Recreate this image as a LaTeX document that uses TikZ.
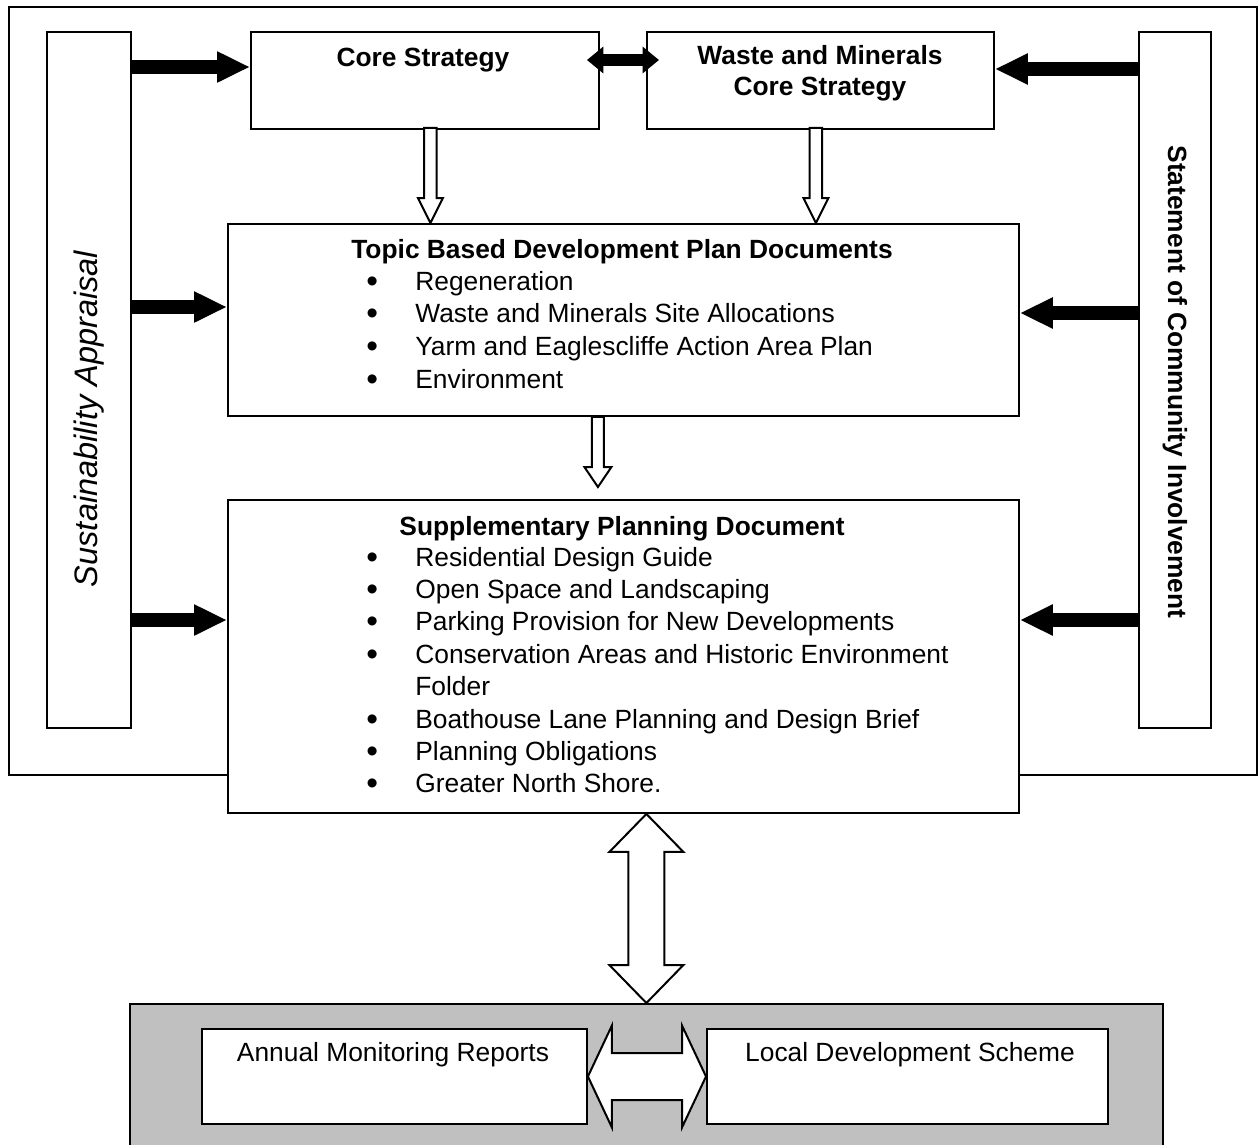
\documentclass[tikz,border=0pt]{standalone}
\usepackage{fontspec}
\setmainfont{Liberation Sans}
\usepackage{tikz}
\usetikzlibrary{arrows.meta,calc}
\definecolor{panel}{HTML}{C0C0C0}
\tikzset{
  box/.style={draw, line width=0.04cm, fill=white, inner sep=0pt},
  frame/.style={draw, line width=0.04cm},
  blk/.style={line width=0.28cm, -{Triangle[length=0.66cm,width=0.58cm]}},
  blkdbl/.style={line width=0.24cm, {Triangle[length=0.33cm,width=0.52cm]}-{Triangle[length=0.33cm,width=0.52cm]},
    shorten <=-0.26cm, shorten >=-0.26cm},
  hollow/.style={draw, line width=0.04cm, fill=white, line join=miter},
  head/.style={font=\bfseries\fontsize{15}{17.6}\selectfont, align=center, inner sep=0pt},
  txt/.style={font=\fontsize{15}{18}\selectfont, inner sep=0pt},
  item/.style={txt, anchor=base west},
  bullet/.style={font=\fontsize{19}{20}\selectfont, inner sep=0pt, anchor=base west}
}

\begin{document}
\begin{tikzpicture}[x=0.02cm,y=-0.02cm]
  \useasboundingbox (0,0) rectangle (1258,1144);
  \clip (0,0) rectangle (1258,1144);
  \draw[frame] (9,7) rectangle (1257,775);

  % side panels
  \node[box, anchor=north west, minimum width=1.68cm, minimum height=13.92cm] (sa) at (46,31) {};
  \node[box, anchor=north west, minimum width=1.44cm, minimum height=13.92cm] (sci) at (1138,31) {};
  \node[font=\itshape\fontsize{18.5}{22}\selectfont, inner sep=0pt, rotate=90] (satxt) at (89,419) {Sustainability Appraisal};
  \node[head, rotate=-90] (scitxt) at (1175,382) {Statement of Community Involvement};

  % strategies
  \node[box, anchor=north west, minimum width=6.96cm, minimum height=1.94cm] (cs) at (250,31) {};
  \node[box, anchor=north west, minimum width=6.94cm, minimum height=1.94cm] (wm) at (646,31) {};
  \node[head, anchor=base] (cstxt) at (423,66) {Core Strategy};
  \node[head] (wmtxt) at (820,73) {Waste and Minerals\\Core Strategy};

  % topic based DPDs
  \node[box, anchor=north west, minimum width=15.82cm, minimum height=3.84cm] (tp) at (227,223) {};
  \node[head, anchor=base] (tptxt) at (622,258) {Topic Based Development Plan Documents};
  \foreach \txt [count=\i] in {Regeneration, Waste and Minerals Site Allocations,
      Yarm and Eaglescliffe Action Area Plan, Environment}{
    \node[bullet] (tpb\i) at (366,{292+32.7*(\i-1)}) {\textbullet};
    \node[item] (tpi\i) at (415,{290+32.7*(\i-1)}) {\txt};
  }

  % SPDs
  \node[box, anchor=north west, minimum width=15.82cm, minimum height=6.26cm] (spd) at (227,499) {};
  \node[head, anchor=base] (spdtxt) at (622,535) {Supplementary Planning Document};
  \foreach \txt/\bul [count=\i] in {Residential Design Guide/1, Open Space and Landscaping/1,
      Parking Provision for New Developments/1, Conservation Areas and Historic Environment/1,
      Folder/0, Boathouse Lane Planning and Design Brief/1, Planning Obligations/1,
      Greater North Shore./1}{
    \ifnum\bul=1 \node[bullet] (spdb\i) at (366,{568+32.4*(\i-1)}) {\textbullet}; \fi
    \node[item] (spdi\i) at (415,{566+32.4*(\i-1)}) {\txt};
  }

  % monitoring
  \node[box, fill=panel, anchor=north west, minimum width=20.66cm, minimum height=3.2cm] (mon) at (129,1003) {};
  \node[box, anchor=north west, minimum width=7.7cm, minimum height=1.9cm] (amr) at (201,1028) {};
  \node[box, anchor=north west, minimum width=8.02cm, minimum height=1.9cm] (lds) at (706,1028) {};
  \node[txt, anchor=base] (amrtxt) at (393,1061) {Annual Monitoring Reports};
  \node[txt, anchor=base] (ldstxt) at (910,1061) {Local Development Scheme};

  % solid arrows
  \draw[blk] (sa.east |- 0,67) -- (cs.west |- 0,67);
  \draw[blk] (sa.east |- 0,307) -- (tp.west |- 0,307);
  \draw[blk] (sa.east |- 0,620) -- (spd.west |- 0,620);
  \draw[blk] (sci.west |- 0,69) -- (wm.east |- 0,69);
  \draw[blk] (sci.west |- 0,313) -- (tp.east |- 0,313);
  \draw[blk] (sci.west |- 0,620) -- (spd.east |- 0,620);
  \draw[blkdbl] (cs.east |- 0,60) -- (wm.west |- 0,60);

  % hollow arrows
  \draw[hollow] let \p1=([xshift=0.11cm]cs.south), \p2=(tp.north) in
    (\x1-0.125cm,\y1+0.04cm) -- (\x1+0.125cm,\y1+0.04cm) -- (\x1+0.125cm,\y2+0.5cm)
    -- (\x1+0.25cm,\y2+0.5cm) -- (\x1,\y2) -- (\x1-0.25cm,\y2+0.5cm)
    -- (\x1-0.125cm,\y2+0.5cm) -- cycle;
  \draw[hollow] let \p1=([xshift=-0.09cm]wm.south), \p2=(tp.north) in
    (\x1-0.125cm,\y1+0.04cm) -- (\x1+0.125cm,\y1+0.04cm) -- (\x1+0.125cm,\y2+0.5cm)
    -- (\x1+0.25cm,\y2+0.5cm) -- (\x1,\y2) -- (\x1-0.25cm,\y2+0.5cm)
    -- (\x1-0.125cm,\y2+0.5cm) -- cycle;
  \draw[hollow] let \p1=([xshift=-0.51cm]tp.south), \p2=([yshift=0.24cm]spd.north) in
    (\x1-0.12cm,\y1) -- (\x1+0.12cm,\y1) -- (\x1+0.12cm,\y2+0.4cm)
    -- (\x1+0.27cm,\y2+0.4cm) -- (\x1,\y2) -- (\x1-0.27cm,\y2+0.4cm)
    -- (\x1-0.12cm,\y2+0.4cm) -- cycle;
  \draw[hollow] let \p1=(spd.south), \p2=(mon.north) in
    (\x2,\y1) -- (\x2+0.74cm,\y1-0.76cm) -- (\x2+0.36cm,\y1-0.76cm) -- (\x2+0.36cm,\y2+0.76cm)
    -- (\x2+0.74cm,\y2+0.76cm) -- (\x2,\y2) -- (\x2-0.74cm,\y2+0.76cm) -- (\x2-0.36cm,\y2+0.76cm)
    -- (\x2-0.36cm,\y1-0.76cm) -- (\x2-0.74cm,\y1-0.76cm) -- cycle;
  \draw[hollow] let \p1=(amr.east), \p2=(lds.west) in
    (\x1,\y1) -- (\x1+0.48cm,\y1+1.02cm) -- (\x1+0.48cm,\y1+0.47cm) -- (\x2-0.48cm,\y1+0.47cm)
    -- (\x2-0.48cm,\y1+1.02cm) -- (\x2,\y1) -- (\x2-0.48cm,\y1-1.02cm) -- (\x2-0.48cm,\y1-0.47cm)
    -- (\x1+0.48cm,\y1-0.47cm) -- (\x1+0.48cm,\y1-1.02cm) -- cycle;
\end{tikzpicture}
\end{document}
